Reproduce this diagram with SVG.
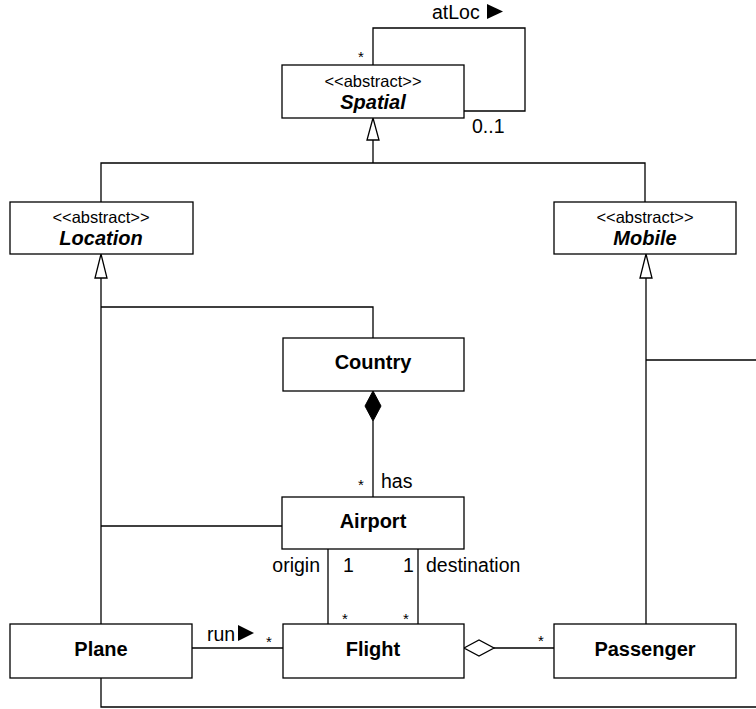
<svg xmlns="http://www.w3.org/2000/svg" width="756" height="709" viewBox="0 0 756 709">
<style>
  .box{fill:#fff;stroke:#000;stroke-width:1.3}
  .ln{fill:none;stroke:#000;stroke-width:1.3}
  .name{font-family:"Liberation Sans",Arial,sans-serif;font-size:20px;font-weight:bold;text-anchor:middle}
  .abs{font-style:italic}
  .st{font-family:"Liberation Sans",Arial,sans-serif;font-size:16.5px;text-anchor:middle}
  .lb{font-family:"Liberation Sans",Arial,sans-serif;font-size:19.5px}
  .m{font-family:"Liberation Sans",Arial,sans-serif;font-size:15px}
</style>
<rect width="756" height="709" fill="#fff"/>
<g id="connectors">
  <!-- self association atLoc -->
  <polyline class="ln" points="373,65 373,28 525,28 525,111 464,111"/>
  <text class="m" x="358" y="62">*</text>
  <text class="lb" x="472" y="133">0..1</text>
  <text class="lb" x="432" y="19">atLoc</text>
  <polygon points="487,4 487,19 503,11.5" fill="#000"/>
  <!-- generalization to Spatial -->
  <polyline class="ln" points="101,202 101,163 645,163 645,202"/>
  <line class="ln" x1="373" y1="163" x2="373" y2="140"/>
  <polygon class="ln" points="373,118 367,140 379,140" fill="#fff"/>
  <!-- generalization to Location -->
  <line class="ln" x1="101" y1="624" x2="101" y2="278"/>
  <polygon class="ln" points="101,254 95,278 107,278" fill="#fff"/>
  <polyline class="ln" points="101,307 373,307 373,338"/>
  <line class="ln" x1="101" y1="526" x2="282" y2="526"/>
  <!-- generalization to Mobile -->
  <line class="ln" x1="646" y1="624" x2="646" y2="278"/>
  <polygon class="ln" points="646,254 640,278 652,278" fill="#fff"/>
  <line class="ln" x1="646" y1="360" x2="756" y2="360"/>
  <!-- bottom line from Plane -->
  <polyline class="ln" points="101,678 101,707 756,707"/>
  <!-- composition Country-Airport -->
  <line class="ln" x1="373" y1="421" x2="373" y2="497"/>
  <polygon points="373,391 381,406 373,421 365,406" fill="#000" stroke="#000"/>
  <text class="m" x="358" y="490">*</text>
  <text class="lb" x="381" y="488">has</text>
  <!-- origin / destination -->
  <line class="ln" x1="328" y1="549" x2="328" y2="624"/>
  <line class="ln" x1="418" y1="549" x2="418" y2="624"/>
  <text class="lb" x="320" y="572" text-anchor="end">origin</text>
  <text class="lb" x="343" y="572">1</text>
  <text class="lb" x="403" y="572">1</text>
  <text class="lb" x="426" y="572">destination</text>
  <text class="m" x="342" y="624">*</text>
  <text class="m" x="403" y="624">*</text>
  <!-- run -->
  <line class="ln" x1="192" y1="648" x2="283" y2="648"/>
  <text class="lb" x="207" y="641">run</text>
  <polygon points="238,625 238,641 254,633" fill="#000"/>
  <text class="m" x="266" y="647">*</text>
  <!-- aggregation Flight-Passenger -->
  <line class="ln" x1="494" y1="648" x2="554" y2="648"/>
  <polygon class="ln" points="464,648 479,640 494,648 479,656" fill="#fff"/>
  <text class="m" x="538" y="646">*</text>
</g>
<g id="Spatial">
  <rect class="box" x="282" y="65" width="182" height="53"/>
  <text class="st" x="373" y="87">&lt;&lt;abstract&gt;&gt;</text>
  <text class="name abs" x="373" y="109">Spatial</text>
</g>
<g id="Location">
  <rect class="box" x="10" y="202" width="183" height="52"/>
  <text class="st" x="101" y="223">&lt;&lt;abstract&gt;&gt;</text>
  <text class="name abs" x="101" y="245">Location</text>
</g>
<g id="Mobile">
  <rect class="box" x="554" y="202" width="182" height="52"/>
  <text class="st" x="645" y="223">&lt;&lt;abstract&gt;&gt;</text>
  <text class="name abs" x="645" y="245">Mobile</text>
</g>
<g id="Country">
  <rect class="box" x="283" y="338" width="181" height="53"/>
  <text class="name" x="373" y="369">Country</text>
</g>
<g id="Airport">
  <rect class="box" x="282" y="497" width="182" height="52"/>
  <text class="name" x="373" y="528">Airport</text>
</g>
<g id="Plane">
  <rect class="box" x="10" y="624" width="182" height="54"/>
  <text class="name" x="101" y="656">Plane</text>
</g>
<g id="Flight">
  <rect class="box" x="283" y="624" width="181" height="54"/>
  <text class="name" x="373" y="656">Flight</text>
</g>
<g id="Passenger">
  <rect class="box" x="554" y="624" width="182" height="54"/>
  <text class="name" x="645" y="656">Passenger</text>
</g>
</svg>
